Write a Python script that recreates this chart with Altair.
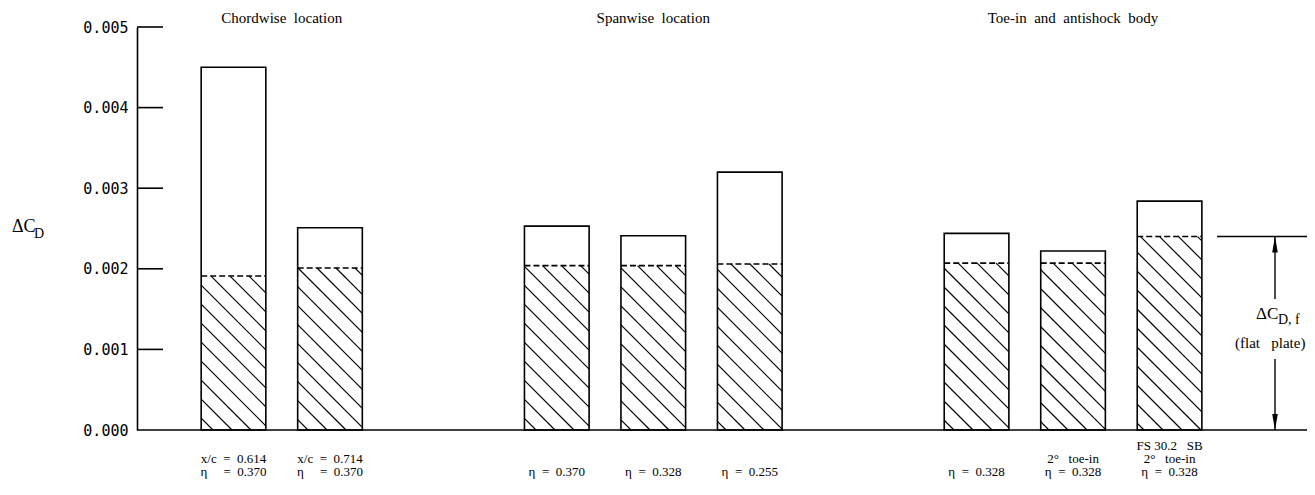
import altair as alt
import pandas as pd

# ---------------- data ----------------
group_titles = ["Chordwise\u00a0 location", "Spanwise\u00a0 location",
                "Toe-in\u00a0 and\u00a0 antishock\u00a0 body"]
bars_per_group = [2, 3, 3]
total_cd = [0.00450, 0.00251, 0.00253, 0.00241, 0.00320, 0.00244, 0.00222, 0.00284]
flat_plate_cd = [0.00191, 0.00201, 0.00204, 0.00204, 0.00206, 0.00207, 0.00207, 0.00240]
label_top = ["", "", "", "", "", "", "", "FS 30.2\u00a0\u00a0 SB"]
label_mid = ["x/c\u00a0 =\u00a0 0.614", "x/c\u00a0 =\u00a0 0.714", "", "", "", "",
             "2°\u00a0\u00a0 toe-in", "2°\u00a0\u00a0 toe-in"]
label_bot = ["η\u00a0\u00a0\u00a0\u00a0 =\u00a0 0.370", "η\u00a0\u00a0\u00a0\u00a0 =\u00a0 0.370",
             "η\u00a0 =\u00a0 0.370", "η\u00a0 =\u00a0 0.328", "η\u00a0 =\u00a0 0.255",
             "η\u00a0 =\u00a0 0.328", "η\u00a0 =\u00a0 0.328", "η\u00a0 =\u00a0 0.328"]
y_tick_values = [0.000, 0.001, 0.002, 0.003, 0.004, 0.005]

# ---------------- layout constants ----------------
W, H = 1170, 403
Y_MAX = 0.005
STEP_PX = 96.5          # pixels between neighbouring bars
GAP = 2.35              # slots between last bar of a group and first of the next
BAR_W = 0.67            # bar width in slots
X_MAX = W / STEP_PX
PX_Y = H / Y_MAX
HATCH_SP = 19           # vertical spacing of hatch lines (px)
SERIF = "Liberation Serif"

xs = alt.Scale(domain=[0, X_MAX], nice=False, zero=False)
ys = alt.Scale(domain=[0, Y_MAX], nice=False, zero=True)

# bar centres
centres, gidx = [], []
pos = 1.0
for g, n in enumerate(bars_per_group):
    for i in range(n):
        centres.append(pos)
        gidx.append(g)
        pos += 1.0
    pos += GAP - 1.0

bars = pd.DataFrame({
    "x0": [c - BAR_W / 2 for c in centres],
    "x1": [c + BAR_W / 2 for c in centres],
    "xc": centres,
    "total": total_cd,
    "flat": flat_plate_cd,
    "t1": label_top, "t2": label_mid, "t3": label_bot,
})

# hatch segments (top-left to bottom-right), computed in pixel space
hx0, hx1, hy0, hy1 = [], [], [], []
for c, f in zip(centres, flat_plate_cd):
    L = (c - BAR_W / 2) * STEP_PX
    R = (c + BAR_W / 2) * STEP_PX
    Hh = f * PX_Y
    k = int(L // HATCH_SP)
    while k * HATCH_SP < R + Hh + HATCH_SP:
        cc = k * HATCH_SP
        u0 = max(L, cc - Hh)
        u1 = min(R, cc)
        if u1 - u0 > 0.5:
            hx0.append(u0 / STEP_PX)
            hx1.append(u1 / STEP_PX)
            hy0.append((cc - u0) / PX_Y)
            hy1.append((cc - u1) / PX_Y)
        k += 1
hatch = pd.DataFrame({"x0": hx0, "x1": hx1, "y0": hy0, "y1": hy1})

titles = pd.DataFrame({
    "x": [sum(c for c, g in zip(centres, gidx) if g == gi) / bars_per_group[gi]
          for gi in range(len(group_titles))],
    "t": group_titles,
})
ticks = pd.DataFrame({"v": y_tick_values[1:]})

# ---------------- layers ----------------
bar_rect = alt.Chart(bars).mark_rect(fill="white", stroke="black", strokeWidth=1.6).encode(
    x=alt.X("x0:Q", scale=xs, axis=None),
    x2="x1:Q",
    y=alt.Y("total:Q", scale=ys, title=None,
            axis=alt.Axis(values=y_tick_values, format=".3f", ticks=False, grid=False,
                          domainColor="black", domainWidth=1.6, labelColor="black",
                          labelFont="DejaVu Sans Mono", labelFontSize=15, labelPadding=9,
                          title=None)),
    y2=alt.Y2(datum=0),
)

hatch_layer = alt.Chart(hatch).mark_rule(color="black", strokeWidth=1.2).encode(
    x=alt.X("x0:Q", scale=xs, axis=None), x2="x1:Q",
    y=alt.Y("y0:Q", scale=ys, title=None), y2="y1:Q",
)

dash_layer = alt.Chart(bars).mark_rule(color="black", strokeWidth=1.6, strokeDash=[6, 3]).encode(
    x=alt.X("x0:Q", scale=xs, axis=None), x2="x1:Q",
    y=alt.Y("flat:Q", scale=ys, title=None),
)

baseline = alt.Chart(pd.DataFrame({"v": [0.0]})).mark_rule(color="black", strokeWidth=1.6).encode(
    x=alt.value(0), x2=alt.value(W),
    y=alt.Y("v:Q", scale=ys, title=None),
)

tick_layer = alt.Chart(ticks).mark_rule(color="black", strokeWidth=1.6).encode(
    x=alt.value(0), x2=alt.value(26),
    y=alt.Y("v:Q", scale=ys, title=None),
)

title_layer = alt.Chart(titles).mark_text(font=SERIF, fontSize=15, color="black",
                                          baseline="middle").encode(
    x=alt.X("x:Q", scale=xs, axis=None), y=alt.value(-9), text="t:N",
)

ROWS = [419, 432, 445]
lab_layers = [
    alt.Chart(bars).mark_text(font=SERIF, fontSize=13, color="black",
                              baseline="middle").encode(
        x=alt.X("xc:Q", scale=xs, axis=None), y=alt.value(r), text=f"{col}:N")
    for col, r in zip(["t1", "t2", "t3"], ROWS)
]

# y axis title  ΔC_D
ylab = alt.Chart(pd.DataFrame({"t": ["ΔC"]})).mark_text(
    font=SERIF, fontSize=18, color="black", align="left", baseline="middle").encode(
    x=alt.value(-125), y=alt.value(200), text="t:N")
ylab_sub = alt.Chart(pd.DataFrame({"t": ["D"]})).mark_text(
    font=SERIF, fontSize=14, color="black", align="left", baseline="middle").encode(
    x=alt.value(-103), y=alt.value(207), text="t:N")

# flat-plate annotation at the right
ref_val = flat_plate_cd[-1]
ref_px = H - ref_val * PX_Y
ARROW_X = 1138
ann_line = alt.Chart(pd.DataFrame({"v": [ref_val]})).mark_rule(color="black", strokeWidth=1.4).encode(
    x=alt.value(1080), x2=alt.value(W), y=alt.Y("v:Q", scale=ys, title=None))
shaft_up = alt.Chart(pd.DataFrame({"a": [0]})).mark_rule(color="black", strokeWidth=1.4).encode(
    x=alt.value(ARROW_X), y=alt.value(ref_px), y2=alt.value(272))
shaft_dn = alt.Chart(pd.DataFrame({"a": [0]})).mark_rule(color="black", strokeWidth=1.4).encode(
    x=alt.value(ARROW_X), y=alt.value(332), y2=alt.value(H))
head_up = alt.Chart(pd.DataFrame({"a": [0]})).mark_point(
    shape="M0,-1L0.35,1L-0.35,1Z", filled=True, color="black", opacity=1, size=256).encode(
    x=alt.value(ARROW_X), y=alt.value(ref_px + 8))
head_dn = alt.Chart(pd.DataFrame({"a": [0]})).mark_point(
    shape="M0,1L0.35,-1L-0.35,-1Z", filled=True, color="black", opacity=1, size=256).encode(
    x=alt.value(ARROW_X), y=alt.value(H - 8))
ann_t1 = alt.Chart(pd.DataFrame({"t": ["ΔC"]})).mark_text(
    font=SERIF, fontSize=17, color="black", align="left", baseline="middle").encode(
    x=alt.value(1119), y=alt.value(287), text="t:N")
ann_t2 = alt.Chart(pd.DataFrame({"t": ["D,\u00a0f"]})).mark_text(
    font=SERIF, fontSize=14, color="black", align="left", baseline="middle").encode(
    x=alt.value(1141), y=alt.value(293), text="t:N")
ann_t3 = alt.Chart(pd.DataFrame({"t": ["(flat\u00a0\u00a0 plate)"]})).mark_text(
    font=SERIF, fontSize=15, color="black", align="left", baseline="middle").encode(
    x=alt.value(1098), y=alt.value(316), text="t:N")

chart = alt.layer(
    bar_rect, hatch_layer, dash_layer, baseline, tick_layer, title_layer, *lab_layers,
    ylab, ylab_sub, ann_line, shaft_up, shaft_dn, head_up, head_dn, ann_t1, ann_t2, ann_t3,
).properties(
    width=W, height=H,
    autosize=alt.AutoSizeParams(type="none"),
    padding={"left": 129, "top": 19, "right": 0, "bottom": 57},
    background="white",
).configure_view(stroke=None)

chart.save("out.html", embed_options={"renderer": "svg", "actions": False})
